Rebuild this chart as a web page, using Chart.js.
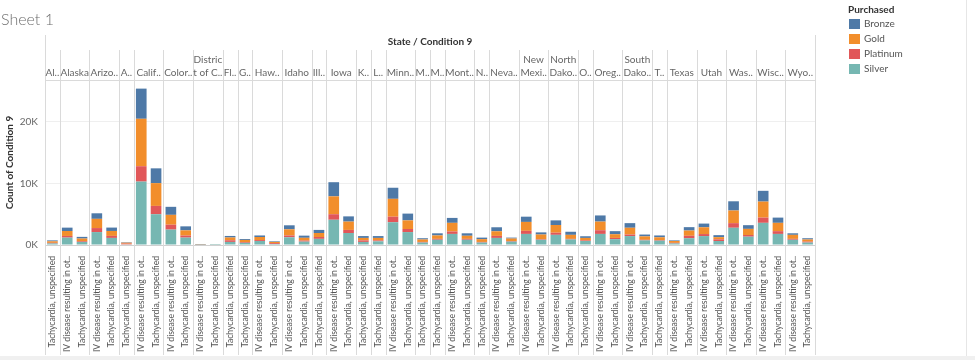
<!DOCTYPE html>
<html>
<head>
<meta charset="utf-8">
<script src="https://cdn.jsdelivr.net/npm/chart.js@4/dist/chart.umd.min.js"></script>
<style>
  html, body { margin: 0; padding: 0; background: #fff; }
  #wrap { position: relative; width: 975px; height: 360px; }
</style>
</head>
<body>
<div id="wrap"><canvas id="chart" width="975" height="360"></canvas></div>
<script>
// Libellés des conditions (tronqués comme dans Tableau)
const TA = 'Tachycardia, unspecified';
const IV = 'IV disease resulting in ot..';

// États (en-têtes de facettes) et nombre de colonnes par état
const stateNames = ['Al..', 'Alaska', 'Arizo..', 'A..', 'Calif..', 'Color..', 'Distric\nt of C..', 'Fl..', 'G..', 'Haw..',
    'Idaho', 'Ill..', 'Iowa', 'K..', 'L..', 'Minn..', 'M..', 'M..', 'Mont..', 'N..', 'Neva..', 'New\nMexi..',
    'North\nDako..', 'O..', 'Oreg..', 'South\nDako..', 'T..', 'Texas', 'Utah', 'Was..', 'Wisc..', 'Wyo..'];
const stateCols = [1, 2, 2, 1, 2, 2, 2, 1, 1, 2, 2, 1, 2, 1, 1, 2, 1, 1, 2, 1, 2, 2, 2, 1, 2, 2, 1, 2, 2, 2, 2, 2];

// Une condition par colonne
const conditions = [TA, IV, TA, IV, TA, TA, IV, TA, IV, TA, IV, TA, TA, TA, IV, TA, IV, TA, TA,
    IV, TA, TA, TA, IV, TA, TA, TA, IV, TA, TA, IV, TA, IV, TA, IV, TA, TA, IV, TA, IV, TA,
    TA, IV, TA, IV, TA, IV, TA, IV, TA, IV, TA];

// Séries (Count of Condition 9)
const silver = [250, 1200, 500, 2100, 1150, 100, 10300, 5000, 2500, 1200, 40, 10, 500, 350, 650, 150, 1250, 550, 1000,
    4100, 1950, 500, 600, 3700, 2100, 400, 850, 1800, 850, 400, 1150, 550, 1800, 850, 1650, 900, 650, 1800, 950, 1450, 750,
    700, 250, 1100, 1450, 650, 2800, 1350, 3600, 1800, 850, 400];
const platinum = [100, 270, 120, 650, 330, 120, 2500, 1350, 800, 330, 20, 0, 270, 120, 150, 150, 300, 170, 300,
    900, 500, 250, 150, 900, 500, 100, 150, 400, 150, 100, 330, 100, 500, 100, 350, 100, 100, 600, 200, 250, 100,
    100, 100, 400, 330, 270, 750, 270, 850, 450, 150, 150];
const gold = [250, 800, 430, 1500, 800, 150, 7700, 3700, 1600, 850, 40, 10, 450, 350, 500, 200, 1000, 450, 650,
    2900, 1350, 400, 400, 2900, 1400, 400, 550, 1400, 500, 450, 750, 400, 1450, 750, 1250, 650, 400, 1400, 600, 1100, 550,
    450, 300, 850, 1100, 350, 2050, 1000, 2600, 1350, 650, 350];
const bronze = [150, 550, 270, 900, 550, 80, 4900, 2400, 1300, 650, 50, 10, 250, 150, 250, 100, 650, 350, 500,
    2300, 850, 300, 300, 1800, 1100, 200, 350, 800, 400, 250, 650, 150, 850, 350, 750, 500, 270, 1000, 500, 750, 300,
    300, 100, 550, 600, 330, 1500, 600, 1750, 850, 250, 200];

const yTicks = [0, 10000, 20000];

const colors = { Bronze: '#4e79a7', Gold: '#f28e2b', Platinum: '#e15759', Silver: '#76b7b2' };
const legendOrder = ['Bronze', 'Gold', 'Platinum', 'Silver'];

Chart.defaults.font.family = 'Lato, "Open Sans", sans-serif';

// En-têtes, séparateurs de facettes, légende et titre
const facetPlugin = {
    id: 'facets',
    beforeDatasetsDraw(chart) {
        const { ctx, chartArea: a, scales: { x } } = chart;
        const w = x.getPixelForValue(1) - x.getPixelForValue(0);
        ctx.save();
        ctx.strokeStyle = '#dadada';
        ctx.lineWidth = 1;

        // cadre de l'en-tête
        ctx.beginPath();
        ctx.moveTo(a.left + 0.5, 35); ctx.lineTo(a.left + 0.5, 355);
        ctx.moveTo(a.right + 0.5, 35); ctx.lineTo(a.right + 0.5, 355);
        ctx.moveTo(a.left, 80.5); ctx.lineTo(a.right, 80.5);
        ctx.stroke();

        ctx.fillStyle = '#333';
        ctx.font = 'bold 10px Lato, sans-serif';
        ctx.textAlign = 'center';
        ctx.textBaseline = 'middle';
        ctx.fillText('State / Condition 9', (a.left + a.right) / 2, 42);

        ctx.font = '10px Lato, sans-serif';
        ctx.fillStyle = '#666';
        let col = 0;
        stateNames.forEach((name, i) => {
            const x0 = x.getPixelForValue(col) - w / 2;
            const x1 = x.getPixelForValue(col + stateCols[i] - 1) + w / 2;
            if (i > 0) {
                ctx.beginPath();
                ctx.moveTo(Math.round(x0) + 0.5, 50);
                ctx.lineTo(Math.round(x0) + 0.5, 355);
                ctx.stroke();
            }
            const lines = name.split('\n');
            lines.forEach((ln, k) => {
                ctx.fillText(ln, (x0 + x1) / 2, 73 - (lines.length - 1 - k) * 13);
            });
            col += stateCols[i];
        });
        ctx.restore();
    },
    afterDraw(chart) {
        const { ctx } = chart;
        ctx.save();
        // titre de la feuille
        ctx.fillStyle = '#6e6e6e';
        ctx.font = '300 16px Lato, sans-serif';
        ctx.textAlign = 'left';
        ctx.textBaseline = 'alphabetic';
        ctx.fillText('Sheet 1', 1, 25);

        // légende
        ctx.fillStyle = '#333';
        ctx.font = 'bold 10px Lato, sans-serif';
        ctx.textBaseline = 'middle';
        ctx.fillText('Purchased', 848, 10);
        ctx.font = '10px Lato, sans-serif';
        legendOrder.forEach((name, i) => {
            const y = 19 + i * 15;
            ctx.fillStyle = colors[name];
            ctx.fillRect(849, y, 11, 10);
            ctx.fillStyle = '#555';
            ctx.fillText(name, 864, y + 5);
        });

        // bordures de la vue
        ctx.strokeStyle = '#e6e6e6';
        ctx.beginPath();
        ctx.moveTo(966.5, 0); ctx.lineTo(966.5, 356);
        ctx.stroke();
        ctx.fillStyle = '#f0f0f0';
        ctx.fillRect(0, 356, 975, 4);
        ctx.restore();
    }
};

const makeSet = (label, data) => ({
    label: label,
    data: data,
    backgroundColor: colors[label],
    borderWidth: 0,
    barPercentage: 0.72,
    categoryPercentage: 1
});

new Chart(document.getElementById('chart'), {
    type: 'bar',
    data: {
        labels: conditions,
        datasets: [
            makeSet('Silver', silver),
            makeSet('Platinum', platinum),
            makeSet('Gold', gold),
            makeSet('Bronze', bronze)
        ]
    },
    options: {
        responsive: false,
        devicePixelRatio: 1,
        animation: false,
        layout: { padding: { left: 0, top: 80, right: 160, bottom: 5 } },
        plugins: {
            legend: { display: false },
            title: { display: false },
            tooltip: { enabled: false }
        },
        scales: {
            x: {
                stacked: true,
                grid: { display: false },
                border: { display: false },
                ticks: {
                    autoSkip: false,
                    maxRotation: 90,
                    minRotation: 90,
                    padding: 3,
                    color: '#555',
                    font: { size: 8.6 }
                },
                afterFit(scale) { scale.height = 110; }
            },
            y: {
                stacked: true,
                min: 0,
                max: 26800,
                border: { display: false },
                grid: {
                    drawTicks: false,
                    color: ctx => ctx.tick && ctx.tick.value === 0 ? '#d0d0d0' : '#efefef'
                },
                ticks: {
                    stepSize: 10000,
                    padding: 7,
                    color: '#666',
                    font: { size: 10 },
                    callback: v => (v / 1000) + 'K'
                },
                afterBuildTicks(scale) {
                    scale.ticks = yTicks.map(v => ({ value: v }));
                },
                title: {
                    display: true,
                    text: 'Count of Condition 9',
                    color: '#333',
                    font: { size: 10, weight: 'bold' },
                    padding: { top: 4, bottom: 0 }
                },
                afterFit(scale) { scale.width = 45; }
            }
        }
    },
    plugins: [facetPlugin]
});
</script>
</body>
</html>
